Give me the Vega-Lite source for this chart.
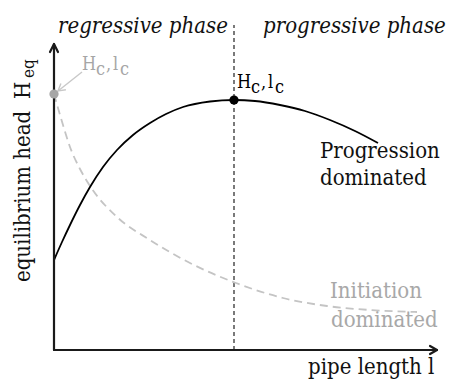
{
  "$schema": "https://vega.github.io/schema/vega-lite/v6.json",
  "width": 450,
  "height": 380,
  "autosize": {"type": "none"},
  "padding": 0,
  "background": "white",
  "config": {"view": {"stroke": null}},
  "datasets": {
    "axes": [
      {"id": "yaxis", "seq": 1, "x": 0, "y": 0},
      {"id": "yaxis", "seq": 2, "x": 0, "y": 306},
      {"id": "yarrow", "seq": 1, "x": -4, "y": 298},
      {"id": "yarrow", "seq": 2, "x": 0, "y": 306},
      {"id": "yarrow", "seq": 3, "x": 4, "y": 298},
      {"id": "xaxis", "seq": 1, "x": 0, "y": 0},
      {"id": "xaxis", "seq": 2, "x": 383, "y": 0},
      {"id": "xarrow", "seq": 1, "x": 376, "y": 4},
      {"id": "xarrow", "seq": 2, "x": 383, "y": 0},
      {"id": "xarrow", "seq": 3, "x": 376, "y": -4}
    ],
    "pointer": [
      {"id": "shaft", "seq": 1, "x": 28, "y": 278},
      {"id": "shaft", "seq": 2, "x": 4, "y": 259},
      {"id": "head", "seq": 1, "x": 11.9, "y": 260.2},
      {"id": "head", "seq": 2, "x": 4, "y": 259},
      {"id": "head", "seq": 3, "x": 6.9, "y": 266.4}
    ],
    "progression": [
      {"x": 0, "y": 90},
      {"x": 8, "y": 108},
      {"x": 16, "y": 125},
      {"x": 26, "y": 145},
      {"x": 36, "y": 163},
      {"x": 49, "y": 183},
      {"x": 63, "y": 200},
      {"x": 79, "y": 215},
      {"x": 96, "y": 227},
      {"x": 112, "y": 236},
      {"x": 129, "y": 243},
      {"x": 156, "y": 248.5},
      {"x": 180, "y": 250},
      {"x": 201, "y": 249},
      {"x": 226, "y": 245},
      {"x": 251, "y": 239},
      {"x": 276, "y": 230},
      {"x": 301, "y": 219},
      {"x": 324, "y": 207}
    ],
    "initiation": [
      {"x": 0, "y": 256},
      {"x": 9, "y": 225},
      {"x": 16, "y": 203},
      {"x": 26, "y": 181},
      {"x": 36, "y": 164},
      {"x": 63, "y": 133},
      {"x": 96, "y": 110},
      {"x": 136, "y": 87},
      {"x": 182, "y": 67},
      {"x": 229, "y": 52},
      {"x": 273, "y": 44},
      {"x": 316, "y": 40},
      {"x": 363, "y": 38}
    ],
    "critical": [
      {"group": "peak", "x": 180, "y": 250},
      {"group": "onset", "x": 0, "y": 256}
    ],
    "divider": [{"x": 180, "y": 0, "y2": 325}],
    "phases": [
      {"label": "regressive phase", "x": 4, "y": 317},
      {"label": "progressive phase", "x": 209, "y": 317}
    ],
    "blackText": [
      {"label": "Progression", "x": 266, "y": 192},
      {"label": "dominated", "x": 266, "y": 165},
      {"label": "pipe length l", "x": 254, "y": -24}
    ],
    "grayText": [
      {"label": "Initiation", "x": 276, "y": 52},
      {"label": "dominated", "x": 277, "y": 23}
    ],
    "critLabels": [
      {"group": "peak", "label": "H", "x": 183, "y": 262},
      {"group": "peak", "label": "c", "x": 197, "y": 257},
      {"group": "peak", "label": ",", "x": 207, "y": 262},
      {"group": "peak", "label": "l", "x": 214, "y": 262},
      {"group": "peak", "label": "c", "x": 221, "y": 257},
      {"group": "onset", "label": "H", "x": 28, "y": 280},
      {"group": "onset", "label": "c", "x": 42, "y": 275},
      {"group": "onset", "label": ",", "x": 52, "y": 280},
      {"group": "onset", "label": "l", "x": 59, "y": 280},
      {"group": "onset", "label": "c", "x": 66, "y": 275}
    ],
    "yTitle": [
      {"label": "equilibrium head", "x": -24, "y": 68}
    ],
    "yTitleH": [
      {"label": "H", "x": -24, "y": 251}
    ],
    "yTitleSub": [
      {"label": "eq", "x": -20, "y": 272}
    ]
  },
  "encoding": {
    "x": {"field": "x", "type": "quantitative", "scale": {"domain": [-54, 396], "nice": false, "zero": false}, "axis": null},
    "y": {"field": "y", "type": "quantitative", "scale": {"domain": [-30, 350], "nice": false, "zero": false}, "axis": null}
  },
  "layer": [
    {
      "data": {"name": "divider"},
      "mark": {"type": "rule", "color": "#222222", "strokeWidth": 1.2, "strokeDash": [4, 3]},
      "encoding": {"y2": {"field": "y2"}}
    },
    {
      "data": {"name": "initiation"},
      "mark": {"type": "line", "color": "#c4c4c4", "strokeWidth": 1.8, "strokeDash": [8, 5], "interpolate": "monotone"},
      "encoding": {}
    },
    {
      "data": {"name": "progression"},
      "mark": {"type": "line", "color": "#000000", "strokeWidth": 1.8, "interpolate": "monotone"},
      "encoding": {}
    },
    {
      "data": {"name": "axes"},
      "mark": {"type": "line", "color": "#1a1a1a", "strokeWidth": 2.2, "strokeCap": "round", "strokeJoin": "round"},
      "encoding": {"detail": {"field": "id"}, "order": {"field": "seq"}}
    },
    {
      "data": {"name": "pointer"},
      "mark": {"type": "line", "color": "#c8c8c8", "strokeWidth": 1.4},
      "encoding": {"detail": {"field": "id"}, "order": {"field": "seq"}}
    },
    {
      "data": {"name": "critical"},
      "mark": {"type": "point", "filled": true, "size": 85, "opacity": 1},
      "encoding": {"color": {"field": "group", "type": "nominal", "scale": {"domain": ["peak", "onset"], "range": ["#000000", "#a6a6a6"]}, "legend": null}}
    },
    {
      "data": {"name": "phases"},
      "mark": {"type": "text", "font": "DejaVu Serif Condensed", "fontStyle": "italic", "fontSize": 22, "align": "left", "baseline": "alphabetic", "color": "#111111"},
      "encoding": {"text": {"field": "label"}}
    },
    {
      "data": {"name": "blackText"},
      "mark": {"type": "text", "font": "DejaVu Serif Condensed", "fontSize": 22, "align": "left", "baseline": "alphabetic", "color": "#111111"},
      "encoding": {"text": {"field": "label"}}
    },
    {
      "data": {"name": "grayText"},
      "mark": {"type": "text", "font": "DejaVu Serif Condensed", "fontSize": 22, "align": "left", "baseline": "alphabetic", "color": "#a8a8a8"},
      "encoding": {"text": {"field": "label"}}
    },
    {
      "data": {"name": "critLabels"},
      "mark": {"type": "text", "font": "DejaVu Serif Condensed", "fontSize": 18, "align": "left", "baseline": "alphabetic"},
      "encoding": {
        "text": {"field": "label"},
        "color": {"field": "group", "type": "nominal", "scale": {"domain": ["peak", "onset"], "range": ["#000000", "#a6a6a6"]}, "legend": null}
      }
    },
    {
      "data": {"name": "yTitle"},
      "mark": {"type": "text", "font": "DejaVu Serif Condensed", "fontSize": 22, "angle": 270, "align": "left", "baseline": "alphabetic", "color": "#111111"},
      "encoding": {"text": {"field": "label"}}
    },
    {
      "data": {"name": "yTitleH"},
      "mark": {"type": "text", "font": "DejaVu Serif Condensed", "fontSize": 22, "angle": 270, "align": "left", "baseline": "alphabetic", "color": "#111111"},
      "encoding": {"text": {"field": "label"}}
    },
    {
      "data": {"name": "yTitleSub"},
      "mark": {"type": "text", "font": "DejaVu Serif Condensed", "fontSize": 17, "angle": 270, "align": "left", "baseline": "alphabetic", "color": "#111111"},
      "encoding": {"text": {"field": "label"}}
    }
  ]
}
